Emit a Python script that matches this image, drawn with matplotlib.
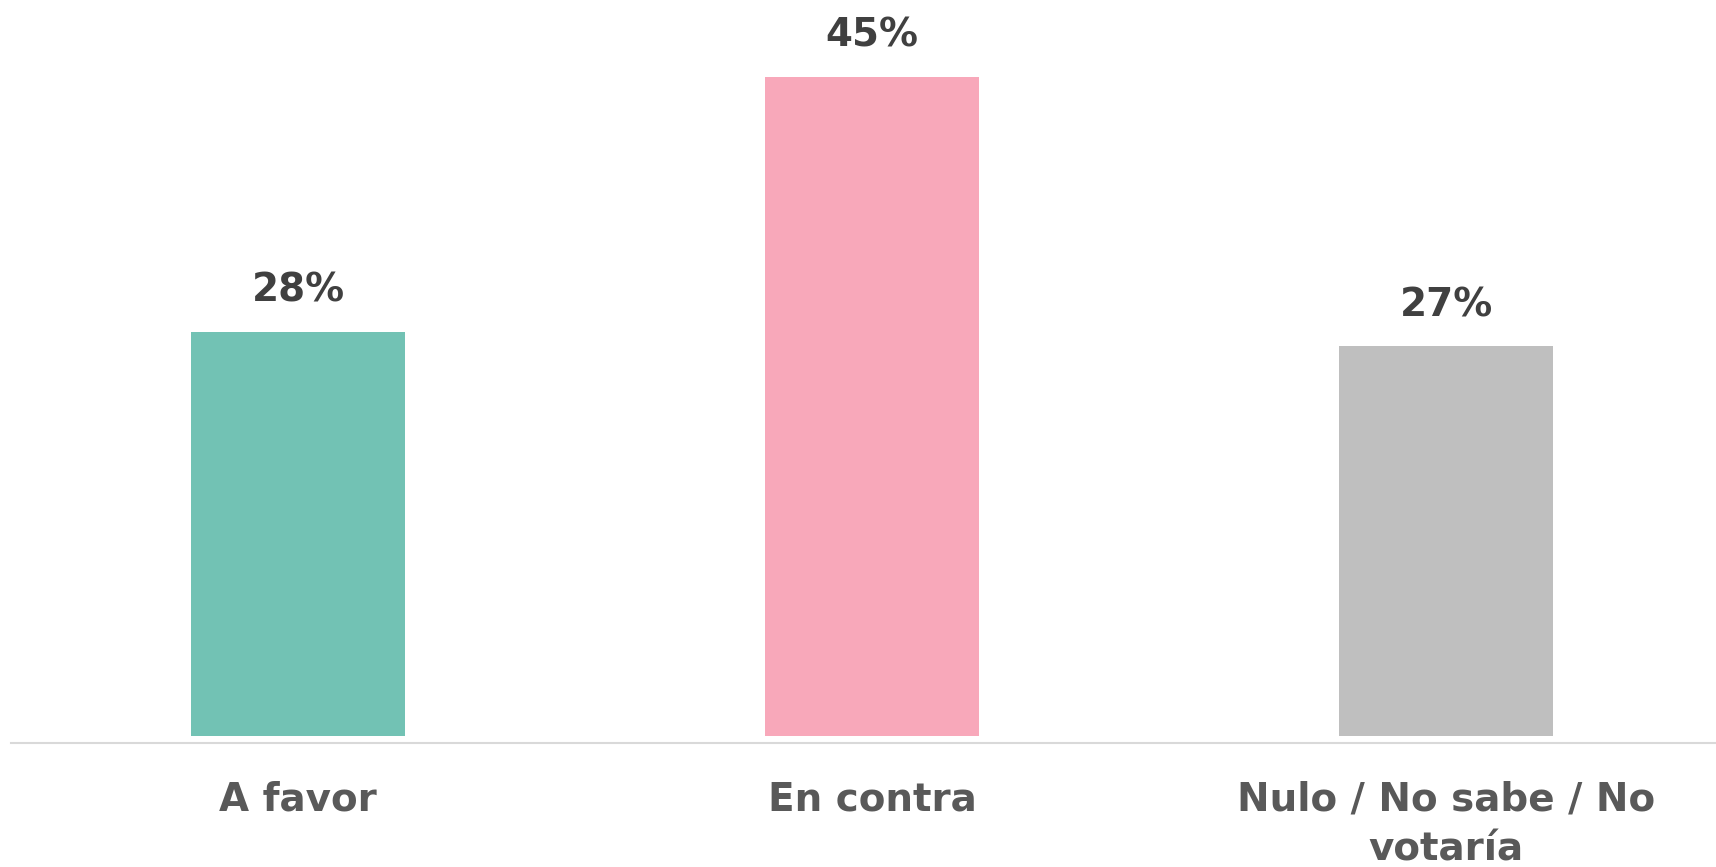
import matplotlib
matplotlib.use("Agg")
import matplotlib.pyplot as plt

categories = ["A favor", "En contra", "Nulo / No sabe / No\nvotaría"]
values = [27.6, 45.0, 26.6]
value_labels = ["28%", "45%", "27%"]
colors = ["#72C2B4", "#F8A8BA", "#BFBFBF"]

plt.rcParams['font.family'] = ['DejaVu Sans']

fig = plt.figure(figsize=(17.16, 8.67), dpi=100)
ax = fig.add_axes([11 / 1716, 131.3 / 867, 1705 / 1716, 732 / 867])

x = list(range(len(categories)))
bars = ax.bar(x, values, width=0.373, color=colors)

# value labels above the bars
for xi, v, lab in zip(x, values, value_labels):
    ax.annotate(lab, (xi, v), xytext=(0, 21.6), textcoords='offset points',
                ha='center', va='baseline', fontsize=28, fontweight='bold',
                color='#404040')

# category labels under the axis line
for xi, cat in zip(x, categories):
    ax.annotate(cat, (xi, 0), xycoords=ax.get_xaxis_transform(),
                xytext=(0, -32.5), textcoords='offset points',
                ha='center', va='top', fontsize=28, fontweight='bold',
                color='#595959', linespacing=1.39, annotation_clip=False)

ax.set_xlim(-0.5, 2.47)
ax.set_ylim(0, 50)
ax.set_yticks([])
ax.set_xticks([])

for s in ['top', 'left', 'right']:
    ax.spines[s].set_visible(False)
ax.spines['bottom'].set_position(('outward', 5))
ax.spines['bottom'].set_color('#D9D9D9')
ax.spines['bottom'].set_linewidth(1.5)

fig.savefig("out.png", dpi=100)
